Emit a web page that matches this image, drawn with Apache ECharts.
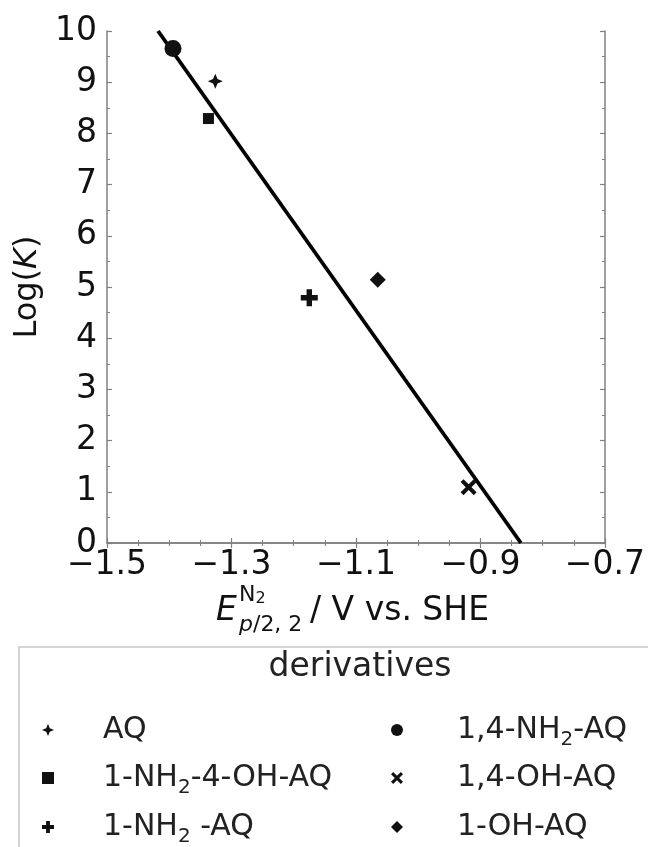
<!DOCTYPE html>
<html>
<head>
<meta charset="utf-8">
<script src="https://cdn.jsdelivr.net/npm/echarts@6/dist/echarts.min.js"></script>
<style>
  html, body { margin: 0; padding: 0; background: #fff; }
  #chart { width: 648px; height: 847px; }
</style>
</head>
<body>
<div id="chart"></div>
<script>
// data
const seriesNames = ['AQ', '1-NH2-4-OH-AQ', '1-NH2-AQ', '1,4-NH2-AQ', '1,4-OH-AQ', '1-OH-AQ'];
const potentials = [-1.326, -1.337, -1.175, -1.394, -0.919, -1.065];
const logK = [9.02, 8.29, 4.79, 9.66, 1.09, 5.14];
const fitX = [-1.418, -0.835];
const fitY = [10, 0];

const FONT = 'DejaVu Sans';
const INK = '#111';
const AXIS_GREY = '#808080';

// marker shapes
const STAR = 'path://M0,-50 L15,-15 L50,0 L15,15 L0,50 L-15,15 L-50,0 L-15,-15 Z';
const PLUS = 'path://M-16,-50 L16,-50 L16,-16 L50,-16 L50,16 L16,16 L16,50 L-16,50 L-16,16 L-50,16 L-50,-16 L-16,-16 Z';
const CROSS = 'path://M-50,-32 L-32,-50 L0,-18 L32,-50 L50,-32 L18,0 L50,32 L32,50 L0,18 L-32,50 L-50,32 L-18,0 Z';
const markerStyle = {
  'AQ': { symbol: STAR, size: 15 },
  '1-NH2-4-OH-AQ': { symbol: 'rect', size: 11 },
  '1-NH2-AQ': { symbol: PLUS, size: 17 },
  '1,4-NH2-AQ': { symbol: 'circle', size: 17 },
  '1,4-OH-AQ': { symbol: CROSS, size: 16 },
  '1-OH-AQ': { symbol: 'diamond', size: 16 }
};

// legend layout: two columns of three rows
const legendCols = [42, 391];
const legendTextPad = [44, 49];
const legendRowTop = [710, 758, 807];

const minus = v => v.toFixed(1).replace('-', '\u2212');

// legend text with subscript 2
const legendText = name => {
  let s = '{n|' + name.replace(/NH2/g, 'NH}{sub|2}{n|') + '}';
  if (name === '1-NH2-AQ') s = s.replace('{n|-AQ}', '{n| -AQ}');
  return s;
};

const chart = echarts.init(document.getElementById('chart'));

const series = seriesNames.map((name, i) => ({
  name: name,
  type: 'scatter',
  data: [[potentials[i], logK[i]]],
  symbol: markerStyle[name].symbol,
  symbolSize: markerStyle[name].size,
  itemStyle: { color: INK, opacity: 1 },
  z: 3
}));
series.push({
  name: 'fit',
  type: 'line',
  data: fitX.map((x, i) => [x, fitY[i]]),
  symbol: 'none',
  lineStyle: { color: '#000', width: 3.8 },
  silent: true,
  z: 2
});

const tickCommon = {
  axisLine: { show: true, lineStyle: { color: AXIS_GREY, width: 1.5 } },
  axisTick: { show: true, inside: true, length: 5, lineStyle: { color: AXIS_GREY, width: 1.2 } },
  splitLine: { show: false }
};
const minor = n => ({ show: true, splitNumber: n, length: 3, lineStyle: { color: AXIS_GREY, width: 1 } });

const legends = seriesNames.map((name, i) => {
  const col = Math.floor(i / 3);
  return {
    data: [name],
    orient: 'vertical',
    left: legendCols[col],
    top: legendRowTop[i % 3],
    itemWidth: 12,
    itemHeight: 12,
    padding: 0,
    selectedMode: false,
    formatter: legendText,
    textStyle: {
      padding: [0, 0, 0, legendTextPad[col]],
      lineHeight: 40,
      rich: {
        n: { fontFamily: FONT, fontSize: 30, color: '#222', lineHeight: 40 },
        sub: { fontFamily: FONT, fontSize: 20, color: '#222', lineHeight: 40, verticalAlign: 'bottom' }
      }
    }
  };
});

const option = {
  animation: false,
  backgroundColor: '#fff',
  grid: { left: 107, right: 42, top: 31, bottom: 304 },
  xAxis: [
    Object.assign({
      type: 'value', min: -1.5, max: -0.7, interval: 0.2, position: 'bottom',
      axisLabel: { formatter: minus, fontFamily: FONT, fontSize: 33, color: INK, margin: 6 },
      minorTick: minor(4)
    }, tickCommon),
    Object.assign({
      type: 'value', min: -1.5, max: -0.7, interval: 0.2, position: 'top',
      axisLabel: { show: false },
      minorTick: minor(4)
    }, tickCommon)
  ],
  yAxis: [
    Object.assign({
      type: 'value', min: 0, max: 10, interval: 1, position: 'left',
      axisLabel: { fontFamily: FONT, fontSize: 33, color: INK, margin: 10 },
      minorTick: minor(2),
      name: '{n|Log(}{i|K}{n|)}',
      nameLocation: 'middle',
      nameGap: 63,
      nameRotate: 90,
      nameTextStyle: {
        rich: {
          n: { fontFamily: FONT, fontSize: 32, color: INK },
          i: { fontFamily: FONT, fontSize: 32, color: INK, fontStyle: 'italic' }
        }
      }
    }, tickCommon),
    Object.assign({
      type: 'value', min: 0, max: 10, interval: 1, position: 'right',
      axisLabel: { show: false },
      minorTick: minor(2)
    }, tickCommon)
  ],
  legend: legends,
  graphic: [
    // legend frame and title
    {
      type: 'rect', silent: true,
      shape: { x: 19, y: 647, width: 700, height: 260 },
      style: { fill: 'none', stroke: '#d4d4d4', lineWidth: 2 }
    },
    {
      type: 'text', silent: true, x: 360, y: 667,
      style: { text: 'derivatives', font: '33px "DejaVu Sans"', fill: '#222', align: 'center', verticalAlign: 'middle' }
    },
    // x axis title: E_{p/2,2}^{N2} / V vs. SHE
    {
      type: 'text', silent: true, x: 216, y: 611,
      style: { text: 'E', font: 'italic 33px "DejaVu Sans"', fill: INK, verticalAlign: 'middle' }
    },
    {
      type: 'text', silent: true, x: 239, y: 583,
      style: {
        text: '{n|N}{s|2}', verticalAlign: 'top',
        rich: {
          n: { font: '22px "DejaVu Sans"', fill: INK, lineHeight: 24 },
          s: { font: '16px "DejaVu Sans"', fill: INK, lineHeight: 24, verticalAlign: 'bottom', padding: [8, 0, 0, 0] }
        }
      }
    },
    {
      type: 'text', silent: true, x: 239, y: 625,
      style: {
        text: '{i|p}{n|/2, 2}', verticalAlign: 'middle',
        rich: {
          i: { font: 'italic 22px "DejaVu Sans"', fill: INK },
          n: { font: '22px "DejaVu Sans"', fill: INK }
        }
      }
    },
    {
      type: 'text', silent: true, x: 310, y: 611,
      style: { text: '/ V vs. SHE', font: '33px "DejaVu Sans"', fill: INK, verticalAlign: 'middle' }
    }
  ],
  series: series
};

chart.setOption(option);
</script>
</body>
</html>
